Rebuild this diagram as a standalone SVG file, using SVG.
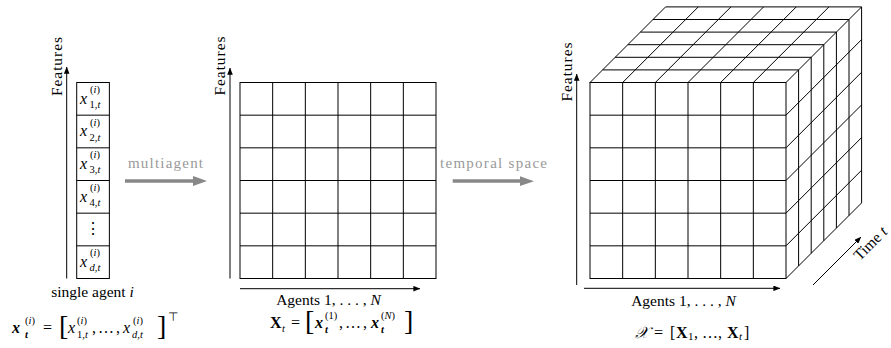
<svg xmlns="http://www.w3.org/2000/svg" width="891" height="348" viewBox="0 0 891 348" font-family="'Liberation Serif', 'Times New Roman', serif">
<defs>
<marker id="ah" viewBox="0 0 10 8" refX="9.5" refY="4" markerWidth="7" markerHeight="5.6" markerUnits="userSpaceOnUse" orient="auto"><path d="M0,0 L10,4 L0,8 Z" fill="#000"/></marker>
</defs>
<style>
text{font-family:"Liberation Serif","Times New Roman",serif;fill:#000}
.lbl{font-size:15.5px}
.it{font-style:italic}
.up{font-style:normal}
.bf{font-weight:bold}
.grey{fill:#999;font-size:15px}
.sc{font-size:10.5px}
.grid{fill:none;stroke:#000;stroke-width:1}
.axis{stroke:#000;stroke-width:1;fill:none;marker-end:url(#ah)}
.cell{font-size:16px}
.br{font-size:28px}
</style>
<rect width="891" height="348" fill="#fff"/>

<g id="single-agent">
<rect x="76.7" y="82.5" width="32.67" height="196" class="grid"/>
<path class="grid" d="M76.7,115.17H109.37M76.7,147.83H109.37M76.7,180.5H109.37M76.7,213.17H109.37M76.7,245.83H109.37"/>
<text class="cell"><tspan class="it" x="80" y="103.5">x</tspan><tspan class="sc" x="90" y="93">(<tspan class="it">i</tspan>)</tspan><tspan class="sc" x="89.5" y="108">1,<tspan class="it">t</tspan></tspan></text>
<text class="cell"><tspan class="it" x="80" y="136.2">x</tspan><tspan class="sc" x="90" y="125.7">(<tspan class="it">i</tspan>)</tspan><tspan class="sc" x="89.5" y="140.7">2,<tspan class="it">t</tspan></tspan></text>
<text class="cell"><tspan class="it" x="80" y="168.8">x</tspan><tspan class="sc" x="90" y="158.3">(<tspan class="it">i</tspan>)</tspan><tspan class="sc" x="89.5" y="173.3">3,<tspan class="it">t</tspan></tspan></text>
<text class="cell"><tspan class="it" x="80" y="201.5">x</tspan><tspan class="sc" x="90" y="191">(<tspan class="it">i</tspan>)</tspan><tspan class="sc" x="89.5" y="206">4,<tspan class="it">t</tspan></tspan></text>
<text class="cell" x="93" y="234" text-anchor="middle">⋮</text>
<text class="cell"><tspan class="it" x="80" y="266.8">x</tspan><tspan class="sc" x="90" y="256.3">(<tspan class="it">i</tspan>)</tspan><tspan class="sc" x="89.5" y="271.3"><tspan class="it">d</tspan>,<tspan class="it">t</tspan></tspan></text>
</g>

<g id="matrix">
<rect x="240" y="82.5" width="196" height="196" class="grid"/>
<path class="grid" d="M240,115.17H436M240,147.83H436M240,180.5H436M240,213.17H436M240,245.83H436M272.67,82.5V278.5M305.33,82.5V278.5M338,82.5V278.5M370.67,82.5V278.5M403.33,82.5V278.5"/>
</g>

<g id="tensor">
<rect x="590" y="82.5" width="196" height="196" class="grid"/>
<path class="grid" d="M590,115.17H786M590,147.83H786M590,180.5H786M590,213.17H786M590,245.83H786M622.67,82.5V278.5M655.33,82.5V278.5M688,82.5V278.5M720.67,82.5V278.5M753.33,82.5V278.5"/>
<path class="grid" d="M602.6,69.9H798.6M615.2,57.3H811.2M627.8,44.7H823.8M640.4,32.1H836.4M653,19.5H849M665.6,6.9H861.6
M590,82.5L665.6,6.9M622.67,82.5L698.27,6.9M655.33,82.5L730.93,6.9M688,82.5L763.6,6.9M720.67,82.5L796.27,6.9M753.33,82.5L828.93,6.9M786,82.5L861.6,6.9
M798.6,69.9V265.9M811.2,57.3V253.3M823.8,44.7V240.7M836.4,32.1V228.1M849,19.5V215.5M861.6,6.9V202.9
M786,115.17L861.6,39.57M786,147.83L861.6,72.23M786,180.5L861.6,104.9M786,213.17L861.6,137.57M786,245.83L861.6,170.23M786,278.5L861.6,202.9"/>
</g>

<g id="connectors">
<line x1="66.7" y1="278.5" x2="66.7" y2="67" class="axis"/>
<line x1="230" y1="278.5" x2="230" y2="68" class="axis"/>
<line x1="240" y1="288.7" x2="420" y2="288.7" class="axis"/>
<line x1="576.7" y1="285" x2="576.7" y2="74" class="axis"/>
<line x1="584" y1="288.3" x2="780" y2="288.3" class="axis"/>
<line x1="813" y1="285" x2="861" y2="237" class="axis"/>
<line x1="125" y1="181" x2="195" y2="181" stroke="#888" stroke-width="3.5"/>
<polygon points="193,176 207,181 193,186" fill="#888"/>
<line x1="452.7" y1="181" x2="522" y2="181" stroke="#888" stroke-width="3.5"/>
<polygon points="520,176.3 534,181.2 520,186" fill="#888"/>
</g>

<g id="labels">
<text class="lbl" transform="translate(62,66.5) rotate(-90)" text-anchor="middle" textLength="59">Features</text>
<text class="lbl" transform="translate(225,66) rotate(-90)" text-anchor="middle" textLength="59">Features</text>
<text class="lbl" transform="translate(572,72) rotate(-90)" text-anchor="middle" textLength="59">Features</text>
<text class="grey" x="165.5" y="168" text-anchor="middle" textLength="75">multiagent</text>
<text class="grey" x="493.5" y="168" text-anchor="middle" textLength="107">temporal space</text>
<text class="lbl" x="92.5" y="296.5" text-anchor="middle">single agent <tspan class="it">i</tspan></text>
<text class="lbl" x="328.5" y="304.5" text-anchor="middle">Agents 1, . . . , <tspan class="it">N</tspan></text>
<text class="lbl" x="683.5" y="305.5" text-anchor="middle">Agents 1, . . . , <tspan class="it">N</tspan></text>
<text class="lbl" transform="translate(874,247) rotate(-45)" text-anchor="middle">Time <tspan class="it">t</tspan></text>
</g>

<g id="formula-left">
<text font-size="16"><tspan class="bf it" x="12" y="333">x</tspan><tspan class="sc" x="25" y="324">(<tspan class="it">i</tspan>)</tspan><tspan class="sc bf it" x="25" y="338">t</tspan><tspan x="43" y="333">=</tspan><tspan class="br" x="59" y="335">[</tspan><tspan class="it" x="68" y="333">x</tspan><tspan class="sc" x="77" y="324">(<tspan class="it">i</tspan>)</tspan><tspan class="sc" x="77" y="338">1,<tspan class="it">t</tspan></tspan><tspan x="92" y="333">,</tspan><tspan x="98" y="333">…</tspan><tspan x="116" y="333">,</tspan><tspan class="it" x="123" y="333">x</tspan><tspan class="sc" x="133" y="324">(<tspan class="it">i</tspan>)</tspan><tspan class="sc" x="132" y="338"><tspan class="it">d</tspan>,<tspan class="it">t</tspan></tspan><tspan class="br" x="157" y="335">]</tspan><tspan font-family="DejaVu Sans" font-size="12" x="168" y="321">⊤</tspan></text>
</g>

<g id="formula-mid">
<text font-size="16"><tspan class="bf" x="270" y="328">X</tspan><tspan class="sc it" x="282" y="332">t</tspan><tspan x="291" y="328">=</tspan><tspan class="br" x="305" y="330">[</tspan><tspan class="bf it" x="315" y="328">x</tspan><tspan class="sc" x="325" y="319">(1)</tspan><tspan class="sc bf it" x="325" y="333">t</tspan><tspan x="339" y="328">,</tspan><tspan x="345" y="328">…</tspan><tspan x="363" y="328">,</tspan><tspan class="bf it" x="371" y="328">x</tspan><tspan class="sc" x="381" y="319">(<tspan class="it">N</tspan>)</tspan><tspan class="sc bf it" x="381" y="333">t</tspan><tspan class="br" x="404" y="330">]</tspan></text>
</g>

<g id="formula-right">
<text font-size="16"><tspan class="it" x="635" y="338">𝒳</tspan><tspan x="654" y="338">=</tspan><tspan x="670" y="338">[</tspan><tspan class="bf" x="676" y="338">X</tspan><tspan font-size="11" x="688" y="340">1</tspan><tspan x="694" y="338">, …,</tspan><tspan class="bf" x="727" y="338">X</tspan><tspan class="it" font-size="11" x="739" y="340">t</tspan><tspan x="744" y="338">]</tspan></text>
</g>
</svg>
